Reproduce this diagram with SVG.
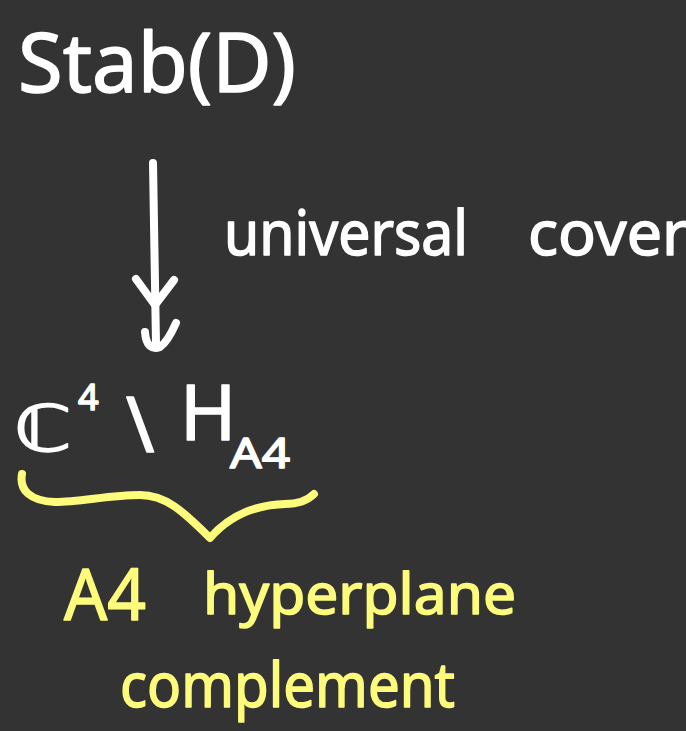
<svg xmlns="http://www.w3.org/2000/svg" width="686" height="731" viewBox="0 0 686 731">
<style>
.w{fill:#ffffff;stroke:#ffffff;stroke-width:1.5;stroke-linejoin:round;font-family:"Noto Sans","DejaVu Sans",sans-serif}
.y{fill:#fdfb7c;stroke:#fdfb7c;stroke-width:1.5;stroke-linejoin:round;font-family:"Noto Sans","DejaVu Sans",sans-serif}
.ln{fill:none;stroke-linecap:round;stroke-linejoin:round;stroke-width:8}
</style>
<rect width="686" height="731" fill="#333333"/>
<g id="stab">
<text class="w" x="18" y="92" font-size="82" textLength="278" lengthAdjust="spacingAndGlyphs">Stab(D)</text>
</g>
<g id="connectors">
<path class="ln" stroke="#ffffff" d="M153,163 L156,344"/>
<path class="ln" stroke="#ffffff" d="M136,279 L155,305 L174,280"/>
<path class="ln" stroke="#ffffff" d="M145,332 C146,346 152,350 160,347 C166,343 172,332 176,323"/>
</g>
<g id="label-cover">
<text class="w" y="255" font-size="62"><tspan x="224" textLength="244" lengthAdjust="spacingAndGlyphs">universal</tspan><tspan x="528" textLength="160" lengthAdjust="spacingAndGlyphs">cover</tspan></text>
</g>
<g id="complement-space">
<text class="w" font-size="66"><tspan x="14" y="451" font-family="DejaVu Sans" font-size="64" textLength="58" lengthAdjust="spacingAndGlyphs">ℂ</tspan><tspan x="78" y="410" font-size="36">4</tspan><tspan x="126" y="452" font-size="76">\</tspan><tspan x="180" y="440" font-size="76">H</tspan><tspan x="230" y="468" font-size="42" textLength="60" lengthAdjust="spacingAndGlyphs">A4</tspan></text>
</g>
<g id="brace">
<path class="ln" stroke="#fdfb7c" d="M22,474 C19,490 30,501 55,502 C80,502 110,495 140,495 C165,495 182,510 210,538 C230,515 255,505 285,504 C300,504 308,500 314,494"/>
</g>
<g id="annotation">
<text class="y" x="64" y="620" font-size="72" textLength="82" lengthAdjust="spacingAndGlyphs">A4</text>
<text class="y" x="203" y="614" font-size="56" textLength="313" lengthAdjust="spacingAndGlyphs">hyperplane</text>
<text class="y" x="120" y="707" font-size="62" textLength="335" lengthAdjust="spacingAndGlyphs">complement</text>
</g>
</svg>
